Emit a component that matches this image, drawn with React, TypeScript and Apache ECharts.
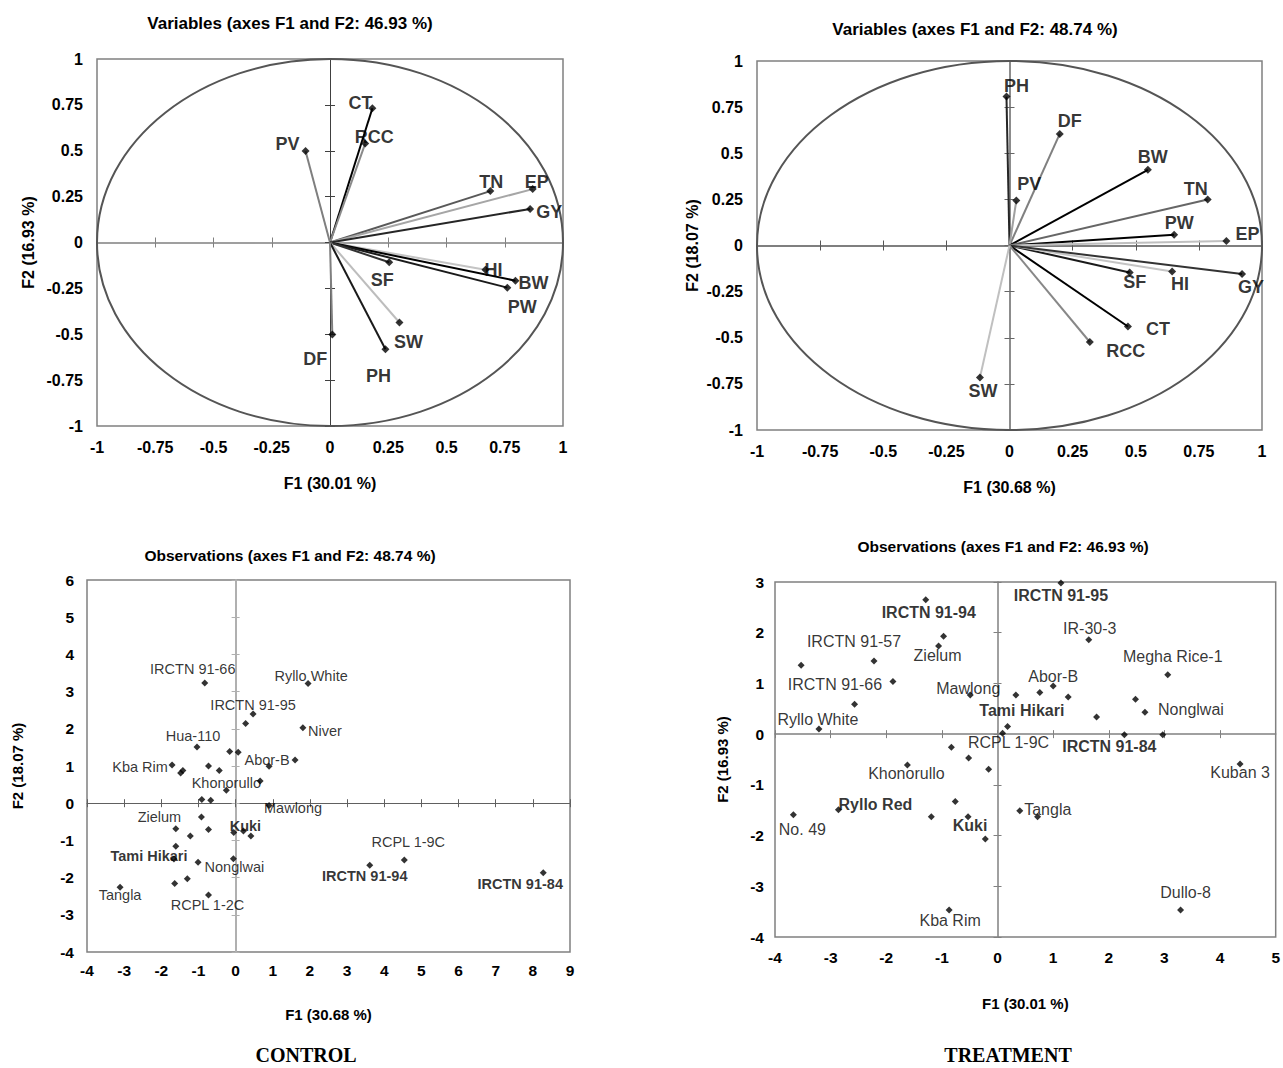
import React, { useEffect, useRef } from "react";
import * as echarts from "echarts";

// ================= DATA =================
// Correlation circle – CONTROL
const controlVarNames = ["CT", "RCC", "PV", "TN", "EP", "GY", "HI", "BW", "PW", "SF", "SW", "PH", "DF"];
const controlVarF1 = [0.182, 0.151, -0.105, 0.688, 0.87, 0.859, 0.667, 0.796, 0.761, 0.254, 0.298, 0.238, 0.01];
const controlVarF2 = [0.732, 0.539, 0.499, 0.28, 0.291, 0.183, -0.148, -0.208, -0.246, -0.108, -0.436, -0.582, -0.501];

// Correlation circle – TREATMENT
const treatmentVarNames = ["PH", "DF", "BW", "PV", "TN", "PW", "EP", "SF", "HI", "GY", "CT", "RCC", "SW"];
const treatmentVarF1 = [-0.012, 0.199, 0.548, 0.027, 0.785, 0.652, 0.859, 0.476, 0.644, 0.921, 0.469, 0.318, -0.117];
const treatmentVarF2 = [0.807, 0.605, 0.41, 0.244, 0.249, 0.058, 0.025, -0.146, -0.141, -0.155, -0.439, -0.523, -0.715];

// Observations – CONTROL ("" = unlabelled genotype)
const controlObsNames = [
  "IRCTN 91-66", "Ryllo White", "IRCTN 91-95", "", "Niver", "Hua-110", "", "", "Abor-B", "",
  "Kba Rim", "", "", "", "", "Khonorullo", "", "", "", "Mawlong",
  "Zielum", "", "", "", "", "Kuki", "", "", "Tami Hikari", "Nonglwai",
  "", "RCPL 1-9C", "IRCTN 91-94", "IRCTN 91-84", "", "", "Tangla", "RCPL 1-2C",
];
const controlObsF1 = [
  -0.83, 1.95, 0.47, 0.27, 1.81, -1.04, -0.16, 0.07, 0.9, 1.6,
  -1.71, -1.42, -1.48, -0.73, -0.44, -0.25, 0.66, -0.91, -0.67, 0.9,
  -0.92, -1.61, -0.73, -1.22, -0.05, 0.21, 0.41, -1.61, -1.66, -0.06,
  -1.01, 4.54, 3.61, 8.28, -1.64, -1.3, -3.11, -0.73,
];
const controlObsF2 = [
  3.23, 3.22, 2.4, 2.14, 2.03, 1.51, 1.39, 1.37, 0.99, 1.16,
  1.03, 0.88, 0.81, 1.0, 0.88, 0.35, 0.6, 0.1, 0.08, -0.06,
  -0.37, -0.69, -0.71, -0.88, -0.79, -0.75, -0.88, -1.16, -1.5, -1.49,
  -1.59, -1.53, -1.67, -1.87, -2.16, -2.03, -2.26, -2.47,
];

// Observations – TREATMENT
const treatmentObsNames = [
  "IRCTN 91-95", "IRCTN 91-94", "", "Zielum", "IR-30-3", "", "IRCTN 91-57", "IRCTN 91-66", "Megha Rice-1", "Abor-B",
  "", "Tami Hikari", "", "Mawlong", "", "Nonglwai", "", "", "Ryllo White", "",
  "RCPL 1-9C", "IRCTN 91-84", "", "", "", "", "Khonorullo", "Kuban 3", "", "No. 49",
  "Ryllo Red", "", "Kuki", "", "Tangla", "", "Kba Rim", "Dullo-8",
];
const treatmentObsF1 = [
  1.14, -1.29, -0.97, -1.06, 1.64, -3.53, -2.22, -1.88, 3.06, 1.0,
  0.76, 0.33, 1.27, -0.49, 2.48, 2.65, -2.57, 1.78, -3.21, 0.18,
  0.09, 2.28, 2.97, -0.83, -0.52, -0.16, -1.62, 4.36, -0.76, -3.67,
  -2.86, -1.19, -0.53, -0.22, 0.4, 0.72, -0.87, 3.29,
];
const treatmentObsF2 = [
  2.98, 2.65, 1.93, 1.74, 1.86, 1.36, 1.44, 1.04, 1.17, 0.95,
  0.82, 0.77, 0.73, 0.77, 0.69, 0.43, 0.59, 0.34, 0.1, 0.15,
  0.02, -0.01, -0.01, -0.26, -0.47, -0.69, -0.61, -0.59, -1.33, -1.59,
  -1.49, -1.63, -1.63, -2.07, -1.51, -1.63, -3.47, -3.47,
];

// Texts
const panelTitles = [
  "Variables (axes F1 and F2: 46.93 %)",
  "Variables (axes F1 and F2: 48.74 %)",
  "Observations (axes F1 and F2: 48.74 %)",
  "Observations (axes F1 and F2: 46.93 %)",
];
const axisNamesF1 = ["F1 (30.01 %)", "F1 (30.68 %)", "F1 (30.68 %)", "F1 (30.01 %)"];
const axisNamesF2 = ["F2 (16.93 %)", "F2 (18.07 %)", "F2 (18.07 %)", "F2 (16.93 %)"];
const conditionLabels = ["CONTROL", "TREATMENT"];

// Axis ranges [min, max, interval]
const varRange = [-1, 1, 0.25];
const controlObsX = [-4, 9, 1];
const controlObsY = [-4, 6, 1];
const treatmentObsX = [-4, 5, 1];
const treatmentObsY = [-4, 3, 1];

// ================= STYLES / PLACEMENT =================
const SANS = "'Liberation Sans', Arial, Helvetica, sans-serif";
const SERIF = "'Liberation Serif', 'Times New Roman', serif";

const controlVarColors = ["#000000", "#8a8a8a", "#7f7f7f", "#595959", "#a6a6a6", "#262626", "#c4c4c4", "#000000", "#1a1a1a", "#333333", "#bdbdbd", "#1a1a1a", "#7f7f7f"];
const treatmentVarColors = ["#262626", "#808080", "#000000", "#a0a0a0", "#666666", "#000000", "#bfbfbf", "#1a1a1a", "#c4c4c4", "#333333", "#000000", "#888888", "#c0c0c0"];

const controlVarLabelOffsets = [[-12, -5], [9, -7], [-18, -7], [1, -9], [4, -7], [19, 3], [8, 0], [18, 2], [15, 19], [-7, 18], [9, 19], [-7, 27], [-17, 25]];
const treatmentVarLabelOffsets = [[10, -11], [10, -13], [5, -13], [13, -16], [-12, -11], [5, -12], [21, -7], [5, 10], [8, 12], [9, 13], [30, 3], [36, 9], [3, 14]];

const controlObsLabelOffsets: Record<string, number[]> = {
  "IRCTN 91-66": [-12, -14], "Ryllo White": [3, -7], "IRCTN 91-95": [0, -9], Niver: [22, 3],
  "Hua-110": [-4, -11], "Abor-B": [-2, -6], "Kba Rim": [-32, 2], Khonorullo: [0, -7],
  Mawlong: [24, 3], Zielum: [-42, 0], Kuki: [2, -5], "Tami Hikari": [-25, -3], Nonglwai: [1, 8],
  "RCPL 1-9C": [4, -18], "IRCTN 91-94": [-5, 11], "IRCTN 91-84": [-23, 11], Tangla: [0, 8], "RCPL 1-2C": [-1, 10],
};
const treatmentObsLabelOffsets: Record<string, number[]> = {
  "IRCTN 91-95": [0, 12], "IRCTN 91-94": [3, 13], Zielum: [-1, 10], "IR-30-3": [1, -11],
  "IRCTN 91-57": [-20, -20], "IRCTN 91-66": [-58, 3], "Megha Rice-1": [5, -18], "Abor-B": [0, -9],
  "Tami Hikari": [6, 15], Mawlong: [-2, -7], Nonglwai: [46, -3], "Ryllo White": [-1, -10],
  "RCPL 1-9C": [6, 9], "IRCTN 91-84": [-15, 12], Khonorullo: [-1, 8], "Kuban 3": [0, 8],
  "Ryllo Red": [37, -5], "No. 49": [9, 15], Kuki: [2, 9], Tangla: [28, -1], "Kba Rim": [1, 10], "Dullo-8": [5, -18],
};
const controlBold = ["Tami Hikari", "Kuki", "IRCTN 91-94", "IRCTN 91-84"];
const treatmentBold = ["IRCTN 91-95", "IRCTN 91-94", "Tami Hikari", "IRCTN 91-84", "Ryllo Red", "Kuki"];

// Plot boxes [left, top, width, height]
const gridBoxes = [
  [97, 59, 466, 367],
  [757, 61, 505, 369],
  [87, 580, 483, 372],
  [775, 582, 506, 355],
];

type AxisCfg = {
  range: number[];
  name: string;
  nameGap: number;
  labelMargin: number;
  font: string;
  labelSize: number;
  nameSize: number;
  lineColor: string;
  lineWidth: number;
  tickLen: number;
};

function buildAxes(grid: number, isX: boolean, c: AxisCfg) {
  const base: any = {
    type: "value",
    gridIndex: grid,
    min: c.range[0],
    max: c.range[1],
    interval: c.range[2],
    position: isX ? "bottom" : "left",
    splitLine: { show: false },
  };
  const tickStyle = { color: c.lineColor, width: 1 };
  return [
    {
      ...base,
      axisLine: { show: false, onZero: false },
      axisTick: { show: false },
      axisLabel: { show: true, margin: c.labelMargin, fontFamily: c.font, fontSize: c.labelSize, fontWeight: "bold", color: "#000" },
      name: c.name,
      nameLocation: "middle",
      nameGap: c.nameGap,
      nameRotate: isX ? 0 : 90,
      nameTextStyle: { fontFamily: c.font, fontSize: c.nameSize, fontWeight: "bold", color: "#000" },
    },
    {
      ...base,
      axisLine: { show: true, onZero: true, lineStyle: { color: c.lineColor, width: c.lineWidth } },
      axisTick: { show: true, inside: false, length: c.tickLen, lineStyle: tickStyle },
      axisLabel: { show: false },
    },
    {
      ...base,
      axisLine: { show: false, onZero: true },
      axisTick: { show: true, inside: true, length: c.tickLen, lineStyle: tickStyle },
      axisLabel: { show: false },
    },
  ];
}

function variableSeries(axisIdx: number, names: string[], f1: number[], f2: number[], colors: string[], offsets: number[][]) {
  return [
    {
      type: "custom",
      xAxisIndex: axisIdx,
      yAxisIndex: axisIdx,
      silent: true,
      clip: false,
      data: [[0, 0]],
      renderItem: (_p: any, api: any) => {
        const c = api.coord([0, 0]);
        const s = api.size([1, 1]);
        return {
          type: "ellipse",
          shape: { cx: c[0], cy: c[1], rx: s[0], ry: s[1] },
          style: { fill: "none", stroke: "#555555", lineWidth: 2 },
        };
      },
    },
    {
      type: "lines",
      coordinateSystem: "cartesian2d",
      xAxisIndex: axisIdx,
      yAxisIndex: axisIdx,
      silent: true,
      data: names.map((n, i) => ({
        name: n,
        coords: [[0, 0], [f1[i], f2[i]]],
        lineStyle: { color: colors[i], width: 2, opacity: 1, curveness: 0 },
      })),
    },
    {
      type: "scatter",
      xAxisIndex: axisIdx,
      yAxisIndex: axisIdx,
      symbol: "diamond",
      symbolSize: 8,
      itemStyle: { color: "#000" },
      data: names.map((n, i) => ({
        name: n,
        value: [f1[i], f2[i]],
        label: {
          show: true,
          position: "inside",
          offset: offsets[i],
          formatter: "{b}",
          fontFamily: SANS,
          fontSize: 18,
          fontWeight: "bold",
          color: "#000",
        },
      })),
    },
  ];
}

function observationSeries(axisIdx: number, names: string[], f1: number[], f2: number[], offsets: Record<string, number[]>, bold: string[], fontSize: number) {
  return [
    {
      type: "scatter",
      xAxisIndex: axisIdx,
      yAxisIndex: axisIdx,
      symbol: "diamond",
      symbolSize: 7,
      itemStyle: { color: "#000" },
      data: names.map((n, i) => ({
        name: n,
        value: [f1[i], f2[i]],
        label: n
          ? {
              show: true,
              position: "inside",
              offset: offsets[n] || [0, -10],
              formatter: "{b}",
              fontFamily: SANS,
              fontSize,
              fontWeight: bold.includes(n) ? "bold" : "normal",
              color: "#000",
            }
          : { show: false },
      })),
    },
  ];
}

function buildOption() {
  const grid = gridBoxes.map((b) => ({
    left: b[0],
    top: b[1],
    width: b[2],
    height: b[3],
    show: true,
    borderColor: "#808080",
    borderWidth: 1.5,
    backgroundColor: "transparent",
  }));

  const topX = (i: number, lineColor: string, lineWidth: number): AxisCfg => ({
    range: varRange, name: axisNamesF1[i], nameGap: 49, labelMargin: 13, font: SANS, labelSize: 16, nameSize: 16,
    lineColor, lineWidth, tickLen: 5,
  });
  const topY = (i: number, gap: number, lineColor: string, lineWidth: number): AxisCfg => ({
    range: varRange, name: axisNamesF2[i], nameGap: gap, labelMargin: 14, font: SANS, labelSize: 16, nameSize: 16,
    lineColor, lineWidth, tickLen: 5,
  });

  const xAxis = [
    ...buildAxes(0, true, topX(0, "#808080", 1.5)),
    ...buildAxes(1, true, topX(1, "#555555", 1.5)),
    ...buildAxes(2, true, { range: controlObsX, name: axisNamesF1[2], nameGap: 55, labelMargin: 10, font: SANS, labelSize: 15.5, nameSize: 15, lineColor: "#606060", lineWidth: 1, tickLen: 4 }),
    ...buildAxes(3, true, { range: treatmentObsX, name: axisNamesF1[3], nameGap: 59, labelMargin: 12, font: SANS, labelSize: 15.5, nameSize: 15, lineColor: "#808080", lineWidth: 1.5, tickLen: 4 }),
  ];
  const yAxis = [
    ...buildAxes(0, false, topY(0, 61, "#404040", 1)),
    ...buildAxes(1, false, topY(1, 57, "#666666", 1.5)),
    ...buildAxes(2, false, { range: controlObsY, name: axisNamesF2[2], nameGap: 62, labelMargin: 13, font: SANS, labelSize: 15.5, nameSize: 15, lineColor: "#b0b0b0", lineWidth: 2, tickLen: 4 }),
    ...buildAxes(3, false, { range: treatmentObsY, name: axisNamesF2[3], nameGap: 45, labelMargin: 11, font: SANS, labelSize: 15.5, nameSize: 15, lineColor: "#808080", lineWidth: 1.5, tickLen: 4 }),
  ];

  const titleCenters = [
    [290, 25, 17],
    [975, 31, 17],
    [290, 557, 15.5],
    [1003, 548, 15.5],
  ];
  const title: any[] = panelTitles.map((t, i) => ({
    text: t,
    left: titleCenters[i][0],
    top: titleCenters[i][1] - 10,
    textAlign: "center",
    padding: 0,
    textStyle: { fontFamily: SANS, fontSize: titleCenters[i][2], fontWeight: "bold", color: "#000" },
  }));
  const condCenters = [306, 1008];
  conditionLabels.forEach((t, i) => {
    title.push({
      text: t,
      left: condCenters[i],
      top: 1045,
      textAlign: "center",
      padding: 0,
      textStyle: { fontFamily: SERIF, fontSize: 20, fontWeight: "bold", color: "#000", lineHeight: 20 },
    });
  });

  const series = [
    ...variableSeries(0, controlVarNames, controlVarF1, controlVarF2, controlVarColors, controlVarLabelOffsets),
    ...variableSeries(3, treatmentVarNames, treatmentVarF1, treatmentVarF2, treatmentVarColors, treatmentVarLabelOffsets),
    ...observationSeries(6, controlObsNames, controlObsF1, controlObsF2, controlObsLabelOffsets, controlBold, 14.5),
    ...observationSeries(9, treatmentObsNames, treatmentObsF1, treatmentObsF2, treatmentObsLabelOffsets, treatmentBold, 16),
  ];

  return {
    animation: false,
    backgroundColor: "#ffffff",
    title,
    grid,
    xAxis,
    yAxis,
    series,
  };
}

export default function App() {
  const ref = useRef<HTMLDivElement>(null);
  useEffect(() => {
    if (!ref.current) return;
    const chart = echarts.init(ref.current, undefined, { renderer: "svg" });
    chart.setOption(buildOption() as any);
    return () => chart.dispose();
  }, []);
  return (
    <div
      ref={ref}
      style={{ position: "absolute", left: 0, top: 0, width: 1283, height: 1068, background: "#fff" }}
    />
  );
}
